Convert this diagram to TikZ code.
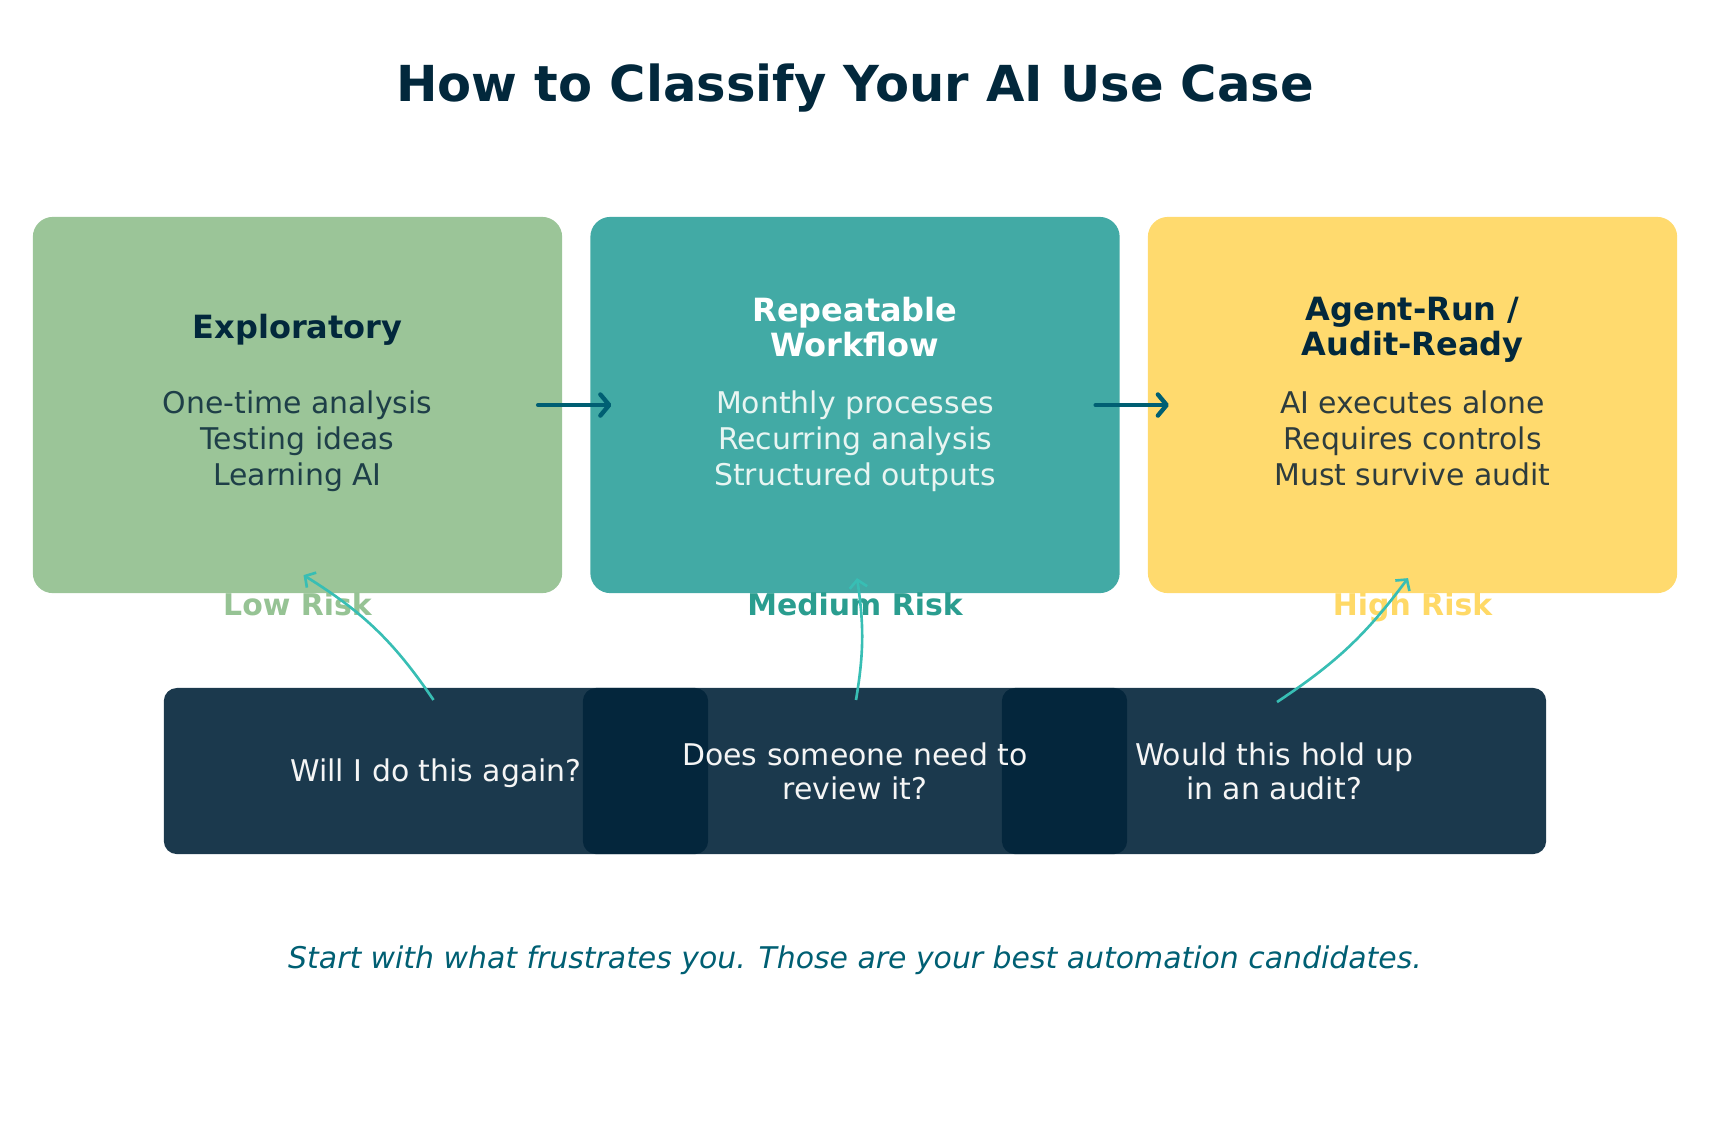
\documentclass[tikz,border=0pt]{standalone}
\usepackage{fontspec}
\setmainfont{DejaVu Sans}
\usepackage{tikz}
\usetikzlibrary{positioning,arrows.meta,shapes,calc}
\usepackage{xcolor}
\definecolor{NavyTitle}{RGB}{2,40,60}
\definecolor{SageBox}{RGB}{155,197,152}
\definecolor{TealBox}{RGB}{66,170,165}
\definecolor{SunBox}{RGB}{255,218,110}
\definecolor{FlowTeal}{RGB}{0,95,115}
\definecolor{AskTeal}{RGB}{56,190,180}
\definecolor{RiskLow}{RGB}{150,195,148}
\definecolor{RiskMid}{RGB}{42,157,143}
\definecolor{RiskHigh}{RGB}{255,217,102}
\definecolor{QuestionNavy}{RGB}{2,36,58}
\definecolor{SageText}{RGB}{30,63,72}
\definecolor{TealText}{RGB}{232,245,242}
\definecolor{SunText}{RGB}{45,60,62}

\begin{document}
\begin{tikzpicture}[
    x=0.01cm, y=-0.01cm,
    every node/.style={inner sep=0pt, outer sep=0pt, align=center},
    stagebox/.style={rounded corners=0.2cm, minimum width=5.29cm, minimum height=3.76cm},
    stagetitle/.style={font=\fontsize{9.1}{10}\selectfont\bfseries},
    stagetext/.style={font=\fontsize{8.5}{10.25}\selectfont},
    risklabel/.style={font=\fontsize{8.5}{10}\selectfont\bfseries},
    questionbox/.style={fill=QuestionNavy, fill opacity=0.9, rounded corners=0.13cm, minimum width=5.44cm, minimum height=1.66cm},
    questiontext/.style={font=\fontsize{8.5}{9.7}\selectfont, text=white!96!black},
    flowarrow/.style={draw=FlowTeal, line width=1.25pt, line cap=round, -{Straight Barb[length=2.5pt,width=6pt,round]}},
    askarrow/.style={draw=AskTeal, line width=0.75pt, -{Straight Barb[length=2.2pt,width=5pt]}},
]
\useasboundingbox (0,0) rectangle (1710,1144);

\node[font=\fontsize{14.1}{17}\selectfont\bfseries, text=NavyTitle, anchor=base] (title) at (855,101) {How to Classify Your AI Use Case};

\node[stagebox, fill=SageBox] (explo) at (297.5,405) {};
\node[stagebox, fill=TealBox] (repeat) at (855,405) {};
\node[stagebox, fill=SunBox] (agent) at (1412.5,405) {};

\node[stagetitle, text=NavyTitle] (explo-t) at (297.5,330) {Exploratory};
\node[stagetext, text=SageText] (explo-b) at (297.5,441) {One-time analysis\\Testing ideas\\Learning AI};
\node[stagetitle, text=white] (repeat-t) at (855,327) {Repeatable\\Workflow};
\node[stagetext, text=TealText] (repeat-b) at (855,441) {Monthly processes\\Recurring analysis\\Structured outputs};
\node[stagetitle, text=NavyTitle] (agent-t) at (1412.5,330) {Agent-Run /\\Audit-Ready};
\node[stagetext, text=SunText] (agent-b) at (1412.5,438) {AI executes alone\\Requires controls\\Must survive audit};

\draw[flowarrow] ([xshift=-0.24cm]explo.east) -- ([xshift=0.21cm]repeat.west);
\draw[flowarrow] ([xshift=-0.24cm]repeat.east) -- ([xshift=0.21cm]agent.west);

\node[risklabel, text=RiskLow, below=0pt of explo] (lowrisk) {Low Risk};
\node[risklabel, text=RiskMid, below=0pt of repeat] (medrisk) {Medium Risk};
\node[risklabel, text=RiskHigh, below=0pt of agent] (highrisk) {High Risk};

\node[questionbox] (qagain) at (436,771) {};
\node[questionbox] (qreview) at (855,771) {};
\node[questionbox] (qaudit) at (1274,771) {};

\node[questiontext] (qagain-t) at (436,773) {Will I do this again?};
\node[questiontext] (qreview-t) at (855,771) {Does someone need to\\review it?};
\node[questiontext] (qaudit-t) at (1274,771) {Would this hold up\\in an audit?};

\draw[askarrow] ([xshift=-0.025cm,yshift=-0.12cm]qagain.north) to[bend right=12] ([xshift=0.06cm,yshift=0.18cm]explo.south);
\draw[askarrow] ([xshift=0.01cm,yshift=-0.12cm]qreview.north) to[bend right=9] ([xshift=0.02cm,yshift=0.15cm]repeat.south);
\draw[askarrow] ([xshift=0.03cm,yshift=-0.14cm]qaudit.north) to[bend right=10] ([xshift=-0.045cm,yshift=0.15cm]agent.south);

\node[font=\fontsize{8.5}{10}\selectfont\itshape, text=FlowTeal] (footer) at (855,960) {Start with what frustrates you. Those are your best automation candidates.};
\end{tikzpicture}
\end{document}
